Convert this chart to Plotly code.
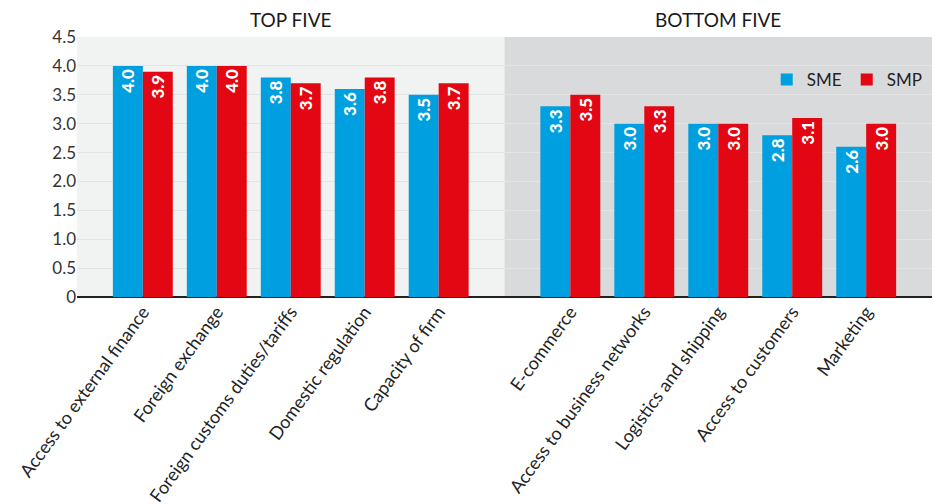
import plotly.graph_objects as go

top_cats = ["Access to external finance", "Foreign exchange", "Foreign customs duties/tariffs",
            "Domestic regulation", "Capacity of firm"]
bottom_cats = ["E-commerce", "Access to business networks", "Logistics and shipping",
               "Access to customers", "Marketing"]
sme_top = [4.0, 4.0, 3.8, 3.6, 3.5]
smp_top = [3.9, 4.0, 3.7, 3.8, 3.7]
sme_bottom = [3.3, 3.0, 3.0, 2.8, 2.6]
smp_bottom = [3.5, 3.3, 3.0, 3.1, 3.0]
y_ticks = [0, 0.5, 1.0, 1.5, 2.0, 2.5, 3.0, 3.5, 4.0, 4.5]
y_ticklabels = ["0", "0.5", "1.0", "1.5", "2.0", "2.5", "3.0", "3.5", "4.0", "4.5"]

margin_u = 0.89
boundary = 4 + margin_u
right_start = boundary + margin_u
x_top = [i for i in range(5)]
x_bot = [right_start + i for i in range(5)]
x_all = x_top + x_bot
cats = top_cats + bottom_cats
sme = sme_top + sme_bottom
smp = smp_top + smp_bottom
x_end = x_bot[-1] + margin_u

BLUE = "#009fdf"
RED = "#e30613"
FONT = "Lato"

fig = go.Figure()
for name, vals, col in [("SME", sme, BLUE), ("SMP", smp, RED)]:
    fig.add_trace(go.Bar(
        x=x_all, y=vals, name=name, marker=dict(color=col, line=dict(width=0)),
        text=[f"{v:.1f}" for v in vals], textposition="inside", insidetextanchor="end",
        textangle=-90, textfont=dict(color="white", size=17, family=FONT + " Black"),
        cliponaxis=False,
    ))

fig.add_shape(type="rect", xref="x", yref="paper", x0=-margin_u, x1=boundary, y0=0, y1=1,
              fillcolor="#f1f2f2", line=dict(width=0), layer="below")
fig.add_shape(type="rect", xref="x", yref="paper", x0=boundary, x1=x_end, y0=0, y1=1,
              fillcolor="#d9dadb", line=dict(width=0), layer="below")

fig.add_annotation(x=2, y=1.068, xref="x", yref="paper", text="TOP FIVE", showarrow=False,
                   font=dict(size=19, color="#1a1a1a", family=FONT), yanchor="middle")
fig.add_annotation(x=x_bot[2], y=1.068, xref="x", yref="paper", text="BOTTOM FIVE", showarrow=False,
                   font=dict(size=19, color="#1a1a1a", family=FONT), yanchor="middle")

fig.update_layout(
    width=940, height=504,
    margin=dict(l=69, r=16, t=29, b=215, autoexpand=False),
    paper_bgcolor="white", plot_bgcolor="rgba(0,0,0,0)",
    barmode="group", bargap=0.19, bargroupgap=0,
    font=dict(family=FONT, color="#333333"),
    legend=dict(orientation="h", x=0.995, xanchor="right", y=0.835, yanchor="middle",
                font=dict(size=17, color="#222222"), bgcolor="rgba(0,0,0,0)",
                itemwidth=30, traceorder="normal"),
    xaxis=dict(range=[-margin_u, x_end], tickvals=x_all, ticktext=cats, tickangle=-54,
               tickfont=dict(size=18, color="#222222"), showgrid=False, zeroline=False,
               showline=False, ticks="", automargin=False),
    yaxis=dict(range=[0, 4.5], tickvals=y_ticks, ticktext=y_ticklabels,
               tickfont=dict(size=17, color="#333333"), showgrid=True, gridcolor="#e3e4e4",
               gridwidth=1, zeroline=True, zerolinecolor="#222222", zerolinewidth=2,
               showline=False, ticks="", automargin=False, layer="below traces"),
)

fig.write_html("out.html")
